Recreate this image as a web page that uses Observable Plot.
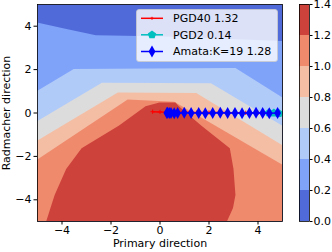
<!DOCTYPE html>
<html><head><meta charset="utf-8">
<script src="https://cdn.jsdelivr.net/npm/d3@7"></script>
<script src="https://cdn.jsdelivr.net/npm/@observablehq/plot@0.6"></script>
<style>
body{margin:0;background:#fff;}
#wrap{position:relative;width:332px;height:252px;font-family:"DejaVu Sans",sans-serif;}
#wrap > *{position:absolute;left:0;top:0;}
</style></head><body><div id="wrap"></div>
<script>
// ---- data ----
const domainX = [-5, 5];
const domainY = [-5, 5];
const xTicks = [-4, -2, 0, 2, 4];
const yTicks = [-4, -2, 0, 2, 4];
const levels = [0.0, 0.2, 0.4, 0.6, 0.8, 1.0, 1.2, 1.4];
const bandColors = ["#506bd9", "#80a3fa", "#b1cbf9", "#dddcdc", "#f4bea5", "#ef8a6d", "#cd423b"];

// iso-lines of the loss surface (x, y); the surface is higher below each line
const contour02 = [[-5, 4.15], [-3.8, 3.85], [-2.6, 3.56], [0.3, 3.5], [5, 3.3]];
const contour04 = [[-5, 0.99], [-3.5, 2.0], [3.1, 2.05], [5, 0.7]];
const contour06 = [[-5, -0.4], [-2.35, 1.37], [2.1, 1.35], [5, -0.6]];
const contour08 = [[-5, -1.3], [-1.7, 0.92], [1.5, 0.9], [5, -1.5]];
const contour10 = [[-5, -2.18], [-1.3, 0.6], [0.6, 0.5], [5, -2.4]];
// the 1.2 region (dome), given as left/right edge per height
const domeY     = [-5, -4.4, -3.8, -2.6, -1.65, -0.6, 0.29, 0.46];
const domeLeft  = [-4.62, -4.45, -4.28, -3.81, -3.18, -1.65, -0.57, 0.0];
const domeRight = [2.76, 3.0, 3.1, 3.02, 2.87, 1.7, 0.79, 0.65];

// attack trajectories
const pgd40X = [-0.3, 0.0, 0.3, 0.6, 1.0, 1.5, 2.0, 2.5, 3.0, 3.5, 4.0, 4.4];
const pgd40Y = [0.06, 0.05, 0.04, 0.03, 0.03, 0.02, 0.02, 0.02, 0.01, 0.01, 0.01, 0.0];
const pgd2X = [4.85, 4.65, 4.45];
const pgd2Y = [-0.02, 0.0, 0.01];
const amataX = [4.8, 4.46, 4.19, 3.92, 3.65, 3.35, 3.06, 2.76, 2.46, 2.15, 1.85, 1.58, 1.27, 0.99, 0.72, 0.58, 0.45, 0.38, 0.31, 0.28];
const amataY = [0.0, -0.01, 0.0, 0.01, 0.0, -0.01, 0.0, 0.0, 0.01, 0.0, -0.01, 0.0, 0.0, 0.01, 0.0, -0.01, 0.0, 0.0, 0.01, 0.0];
const legendLabels = ["PGD40 1.32", "PGD2 0.14", "Amata:K=19 1.28"];
const legendColors = ["#ff0000", "#00bfbf", "#0000ff"];

// ---- build tables ----
const upperContours = [contour02, contour04, contour06, contour08, contour10];
const dome = domeY.map((y, i) => ({y, left: domeLeft[i], right: domeRight[i]}));
const pgd40 = pgd40X.map((x, i) => ({x, y: pgd40Y[i]}));
const pgd2 = pgd2X.map((x, i) => ({x, y: pgd2Y[i]}));
const amata = amataX.map((x, i) => ({x, y: amataY[i]}));
const bands = bandColors.map((c, i) => ({lo: levels[i], hi: levels[i + 1], c}));

const thinDiamond = {draw(ctx) { const h = 6, w = 3.4; ctx.moveTo(0, -h); ctx.lineTo(w, 0); ctx.lineTo(0, h); ctx.lineTo(-w, 0); ctx.closePath(); }};
const pentagon = {draw(ctx) { const r = 4.4; for (let k = 0; k < 5; k++) { const a = -Math.PI / 2 + k * 2 * Math.PI / 5; const px = r * Math.cos(a), py = r * Math.sin(a); if (k) ctx.lineTo(px, py); else ctx.moveTo(px, py); } ctx.closePath(); }};
const minusFmt = d => (d < 0 ? "\u2212" + Math.abs(d) : String(d));
const font = {fontFamily: "'DejaVu Sans', sans-serif", fontSize: "11px", color: "#000", background: "transparent", overflow: "visible"};

const main = Plot.plot({
  width: 290, height: 252,
  marginLeft: 37, marginRight: 8, marginTop: 4, marginBottom: 31,
  style: font,
  x: {domain: domainX},
  y: {domain: domainY},
  marks: [
    Plot.frame({fill: bandColors[0]}),
    ...upperContours.map((c, i) => Plot.areaY(c, {x: d => d[0], y1: domainY[0], y2: d => d[1], fill: bandColors[i + 1]})),
    Plot.areaX(dome, {y: "y", x1: "left", x2: "right", fill: bandColors[6]}),
    Plot.line(pgd40, {x: "x", y: "y", stroke: legendColors[0], strokeWidth: 1.5}),
    Plot.dot(pgd40, {x: "x", y: "y", symbol: "plus", r: 1.5, stroke: legendColors[0], strokeWidth: 1}),
    Plot.line(pgd2, {x: "x", y: "y", stroke: legendColors[1], strokeWidth: 1.5}),
    Plot.dot(pgd2, {x: "x", y: "y", symbol: pentagon, fill: legendColors[1], stroke: "none"}),
    Plot.line(amata, {x: "x", y: "y", stroke: legendColors[2], strokeWidth: 1.5}),
    Plot.dot(amata, {x: "x", y: "y", symbol: thinDiamond, fill: legendColors[2], stroke: "none"}),
    Plot.frame({stroke: "#000", strokeWidth: 0.8}),
    Plot.axisX({ticks: xTicks, tickFormat: minusFmt, tickSize: 3.5, tickPadding: 1.5, label: null}),
    Plot.axisY({ticks: yTicks, tickFormat: minusFmt, tickSize: 3.5, tickPadding: 2.5, label: null})
  ]
});

const cbar = Plot.plot({
  width: 42, height: 252,
  marginLeft: 9, marginRight: 23, marginTop: 4, marginBottom: 31,
  style: font,
  x: {domain: [0, 1], axis: null},
  y: {domain: [levels[0], levels[levels.length - 1]]},
  marks: [
    Plot.rect(bands, {x1: 0, x2: 1, y1: "lo", y2: "hi", fill: "c"}),
    Plot.frame({stroke: "#000", strokeWidth: 0.8}),
    Plot.axisY({anchor: "right", ticks: levels, tickFormat: d3.format(".1f"), tickSize: 2.5, tickPadding: 1.5, label: null})
  ]
});

const wrap = document.getElementById("wrap");
wrap.appendChild(main);
cbar.style.left = "290px";
wrap.appendChild(cbar);

// overlay: axis titles and legend (real text)
const ns = "http://www.w3.org/2000/svg";
const ov = document.createElementNS(ns, "svg");
ov.setAttribute("width", 332); ov.setAttribute("height", 252);
ov.style.fontFamily = "'DejaVu Sans', sans-serif"; ov.style.fontSize = "11px";
function el(tag, attrs, text) { const e = document.createElementNS(ns, tag); for (const k in attrs) e.setAttribute(k, attrs[k]); if (text != null) e.textContent = text; ov.appendChild(e); return e; }
el("text", {x: 160, y: 247, "text-anchor": "middle", fill: "#000"}, "Primary direction");
el("text", {transform: "translate(10,113) rotate(-90)", "text-anchor": "middle", fill: "#000"}, "Radmacher direction");
el("rect", {x: 136.5, y: 9.5, width: 141, height: 52, rx: 2.5, fill: "#fff", "fill-opacity": 0.8, stroke: "#cccccc", "stroke-width": 0.8});
const rowsY = [18.3, 34.8, 51.5];
legendLabels.forEach((lab, i) => {
  const y = rowsY[i];
  el("line", {x1: 141, x2: 163, y1: y, y2: y, stroke: legendColors[i], "stroke-width": 1.5});
  if (i === 0) el("path", {d: `M152,${y - 1.5}V${y + 1.5}M150.5,${y}H153.5`, stroke: legendColors[i], "stroke-width": 1});
  if (i === 1) { const p = d3.path(); pentagon.draw(p); el("path", {d: p.toString(), transform: `translate(152,${y})`, fill: legendColors[i]}); }
  if (i === 2) { const p = d3.path(); thinDiamond.draw(p); el("path", {d: p.toString(), transform: `translate(152,${y})`, fill: legendColors[i]}); }
  el("text", {x: 173, y: y, dy: "0.35em", fill: "#000"}, lab);
});
wrap.appendChild(ov);
</script></body></html>
